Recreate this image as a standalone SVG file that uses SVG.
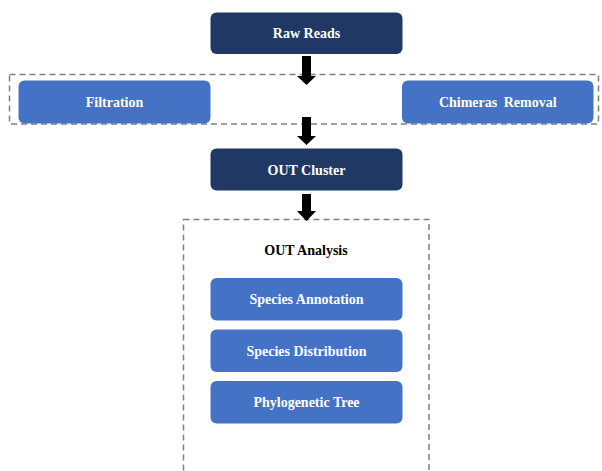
<svg xmlns="http://www.w3.org/2000/svg" width="602" height="471" viewBox="0 0 602 471">
<style>
.dark{fill:#203864;}
.mid{fill:#4472C4;}
.lbl{font-family:"Liberation Serif","Times New Roman",serif;font-weight:bold;font-size:14px;fill:#ffffff;text-anchor:middle;}
.title{font-family:"Liberation Serif","Times New Roman",serif;font-weight:bold;font-size:14px;fill:#000000;text-anchor:middle;}
.dash{fill:none;stroke:#808080;stroke-width:1.5;stroke-dasharray:6,4;}
.arrow{fill:#000000;}
</style>
<rect width="602" height="471" fill="#ffffff"/>
<g id="group-preprocess"><rect class="dash" x="9.5" y="74.5" width="589" height="49.5"/></g>
<g id="group-analysis"><rect class="dash" x="183.5" y="219.5" width="245.5" height="270"/>
<text class="title" x="306" y="255">OUT Analysis</text></g>
<g id="connectors">
<path class="arrow" d="M302,56 H311 V76 H316 L306.5,85 L297,76 H302 Z"/>
<path class="arrow" d="M302,117 H311 V136 H316 L306.5,145 L297,136 H302 Z"/>
<path class="arrow" d="M302,194 H311 V211 H316 L306.5,221 L297,211 H302 Z"/>
</g>
<g id="raw-reads"><rect class="dark" x="210.5" y="12.5" width="192" height="41.5" rx="6"/><text class="lbl" x="306.5" y="38">Raw Reads</text></g>
<g id="filtration"><rect class="mid" x="18.5" y="80.5" width="192" height="43" rx="6"/><text class="lbl" x="114.5" y="107">Filtration</text></g>
<g id="chimeras-removal"><rect class="mid" x="402" y="80.5" width="191.5" height="43" rx="6"/><text class="lbl" x="497.75" y="107" word-spacing="3">Chimeras Removal</text></g>
<g id="out-cluster"><rect class="dark" x="210.5" y="148.5" width="192" height="42" rx="6"/><text class="lbl" x="306.5" y="174.5">OUT Cluster</text></g>
<g id="species-annotation"><rect class="mid" x="210.5" y="278" width="192" height="42.5" rx="6"/><text class="lbl" x="306.5" y="304">Species Annotation</text></g>
<g id="species-distribution"><rect class="mid" x="210.5" y="329.5" width="192" height="42.5" rx="6"/><text class="lbl" x="306.5" y="355.5">Species Distribution</text></g>
<g id="phylogenetic-tree"><rect class="mid" x="210.5" y="381" width="192" height="42.5" rx="6"/><text class="lbl" x="306.5" y="407">Phylogenetic Tree</text></g>
</svg>
